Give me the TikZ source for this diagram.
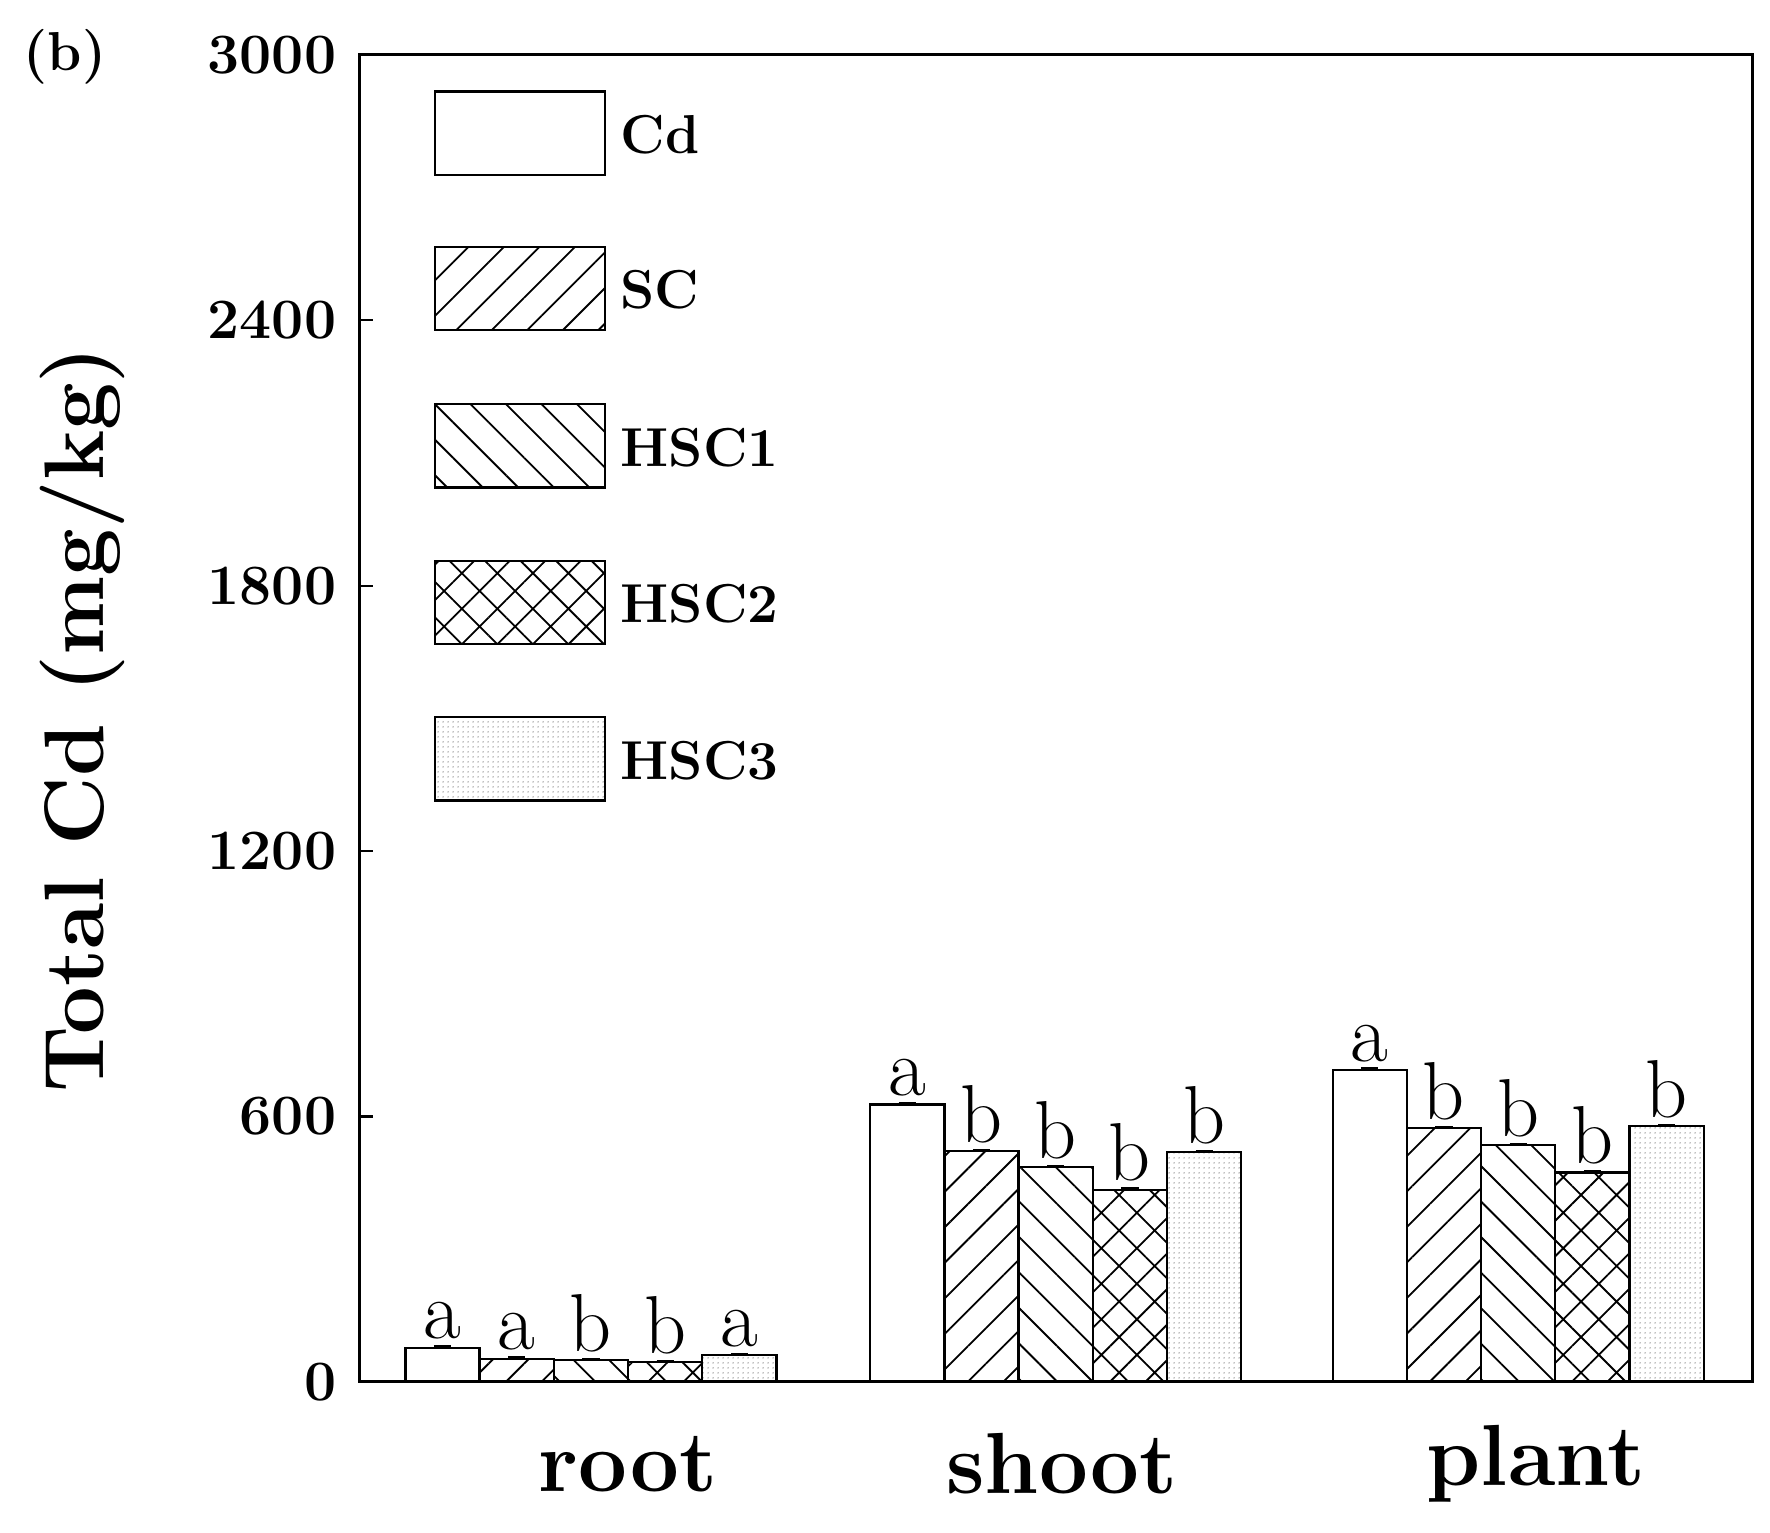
\documentclass[tikz,border=0pt]{standalone}
\usetikzlibrary{patterns.meta}
\begin{document}
\begin{tikzpicture}[x=1pt,y=-1pt,
  bar/.style={draw=black,line width=2pt},
  lab/.style={font=\fontsize{72}{76}\selectfont,anchor=south,inner sep=1pt},
  tick/.style={font=\bfseries\fontsize{50}{54}\selectfont,anchor=east},
  leg/.style={font=\bfseries\fontsize{48}{52}\selectfont,anchor=west},
  cat/.style={font=\bfseries\fontsize{76}{80}\selectfont},
  pSC/.style={pattern={Lines[angle=45,distance=22pt,line width=1.6pt]}},
  pH1/.style={pattern={Lines[angle=-45,distance=22pt,line width=1.6pt]}},
  pH2/.style={pattern={Hatch[angle=45,distance=22pt,line width=1.6pt]}},
  pH3/.style={pattern={Dots[distance=4pt,radius=0.7pt]},pattern color=gray},
  pCd/.style={fill=white}]
\useasboundingbox (0,0) rectangle (1550,1342);
\def\Y#1{1210-0.3873*#1}
% bars
\foreach \x/\v/\s/\l in {355/77/pCd/a,420/52/pSC/a,485/49/pH1/b,550/44/pH2/b,615/60/pH3/a,
  762/627/pCd/a,827/521/pSC/b,892/485/pH1/b,957/434/pH2/b,1022/519/pH3/b,
  1167/705/pCd/a,1232/573/pSC/b,1297/535/pH1/b,1362/473/pH2/b,1427/578/pH3/b}{
  \draw[bar,\s] (\x,1210) rectangle (\x+65,{\Y{\v}});
  \draw[line width=1.5pt] (\x+25,{\Y{\v}-1.5}) -- (\x+40,{\Y{\v}-1.5});
  \node[lab] (l\x) at (\x+32.5,{\Y{\v}-6}) {\l};
}
% axes
\draw[line width=2.5pt] (315,48) rectangle (1535,1210);
\foreach \v in {0,600,1200,1800,2400,3000}{
  \draw[line width=2pt] (315,{\Y{\v}}) -- (327,{\Y{\v}});
  \node[tick] (t\v) at (298,{\Y{\v}}) {\v};
}
\node[font=\bfseries\fontsize{74}{78}\selectfont,rotate=90] (yl) at (72,630) {Total Cd (mg/kg)};
\node[font=\bfseries\fontsize{48}{52}\selectfont] (b) at (57,50) {(b)};
\node[cat] (c1) at (550,1282) {root};
\node[cat] (c2) at (930,1282) {shoot};
\node[cat] (c3) at (1345,1282) {plant};
% legend
\foreach \yy/\s/\t in {80/pCd/Cd,216/pSC/SC,354/pH1/HSC1,491/pH2/HSC2,628/pH3/HSC3}{
  \draw[bar,\s] (381,\yy) rectangle (530,\yy+73);
  \node[leg] (g\t) at (540,\yy+38) {\t};
}
\end{tikzpicture}
\end{document}
